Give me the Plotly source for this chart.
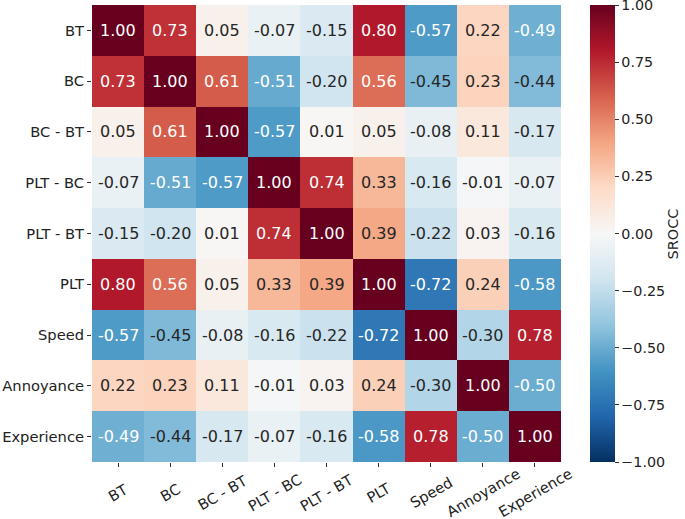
import plotly.graph_objects as go

labels = ["BT", "BC", "BC - BT", "PLT - BC", "PLT - BT", "PLT", "Speed", "Annoyance", "Experience"]
row_BT = [1.00, 0.73, 0.05, -0.07, -0.15, 0.80, -0.57, 0.22, -0.49]
row_BC = [0.73, 1.00, 0.61, -0.51, -0.20, 0.56, -0.45, 0.23, -0.44]
row_BCBT = [0.05, 0.61, 1.00, -0.57, 0.01, 0.05, -0.08, 0.11, -0.17]
row_PLTBC = [-0.07, -0.51, -0.57, 1.00, 0.74, 0.33, -0.16, -0.01, -0.07]
row_PLTBT = [-0.15, -0.20, 0.01, 0.74, 1.00, 0.39, -0.22, 0.03, -0.16]
row_PLT = [0.80, 0.56, 0.05, 0.33, 0.39, 1.00, -0.72, 0.24, -0.58]
row_Speed = [-0.57, -0.45, -0.08, -0.16, -0.22, -0.72, 1.00, -0.30, 0.78]
row_Annoy = [0.22, 0.23, 0.11, -0.01, 0.03, 0.24, -0.30, 1.00, -0.50]
row_Exp = [-0.49, -0.44, -0.17, -0.07, -0.16, -0.58, 0.78, -0.50, 1.00]
z = [row_BT, row_BC, row_BCBT, row_PLTBC, row_PLTBT, row_PLT, row_Speed, row_Annoy, row_Exp]

cb_ticks = [-1.0, -0.75, -0.5, -0.25, 0.0, 0.25, 0.5, 0.75, 1.0]
cbar_title = "SROCC"

rdbu = ["#053061", "#2166ac", "#4393c3", "#92c5de", "#d1e5f0", "#f7f7f7",
        "#fddbc7", "#f4a582", "#d6604d", "#b2182b", "#67001f"]
colorscale = [[i / 10, c] for i, c in enumerate(rdbu)]

FONT = "DejaVu Sans"
TICK_SIZE = 14.7
n = len(labels)

fig = go.Figure(go.Heatmap(
    z=z, x=labels, y=labels, zmin=-1.00001, zmax=1.00001, colorscale=colorscale,
    xgap=0, ygap=0, hoverinfo="skip",
    colorbar=dict(
        thickness=25, thicknessmode="pixels", len=1, lenmode="fraction",
        x=1.0618, xanchor="left", xpad=0, y=0.5, yanchor="middle", ypad=0,
        outlinewidth=0, ticks="outside", ticklen=4, tickcolor="#333",
        tickvals=cb_ticks, ticklabeloverflow="allow",
        ticktext=[f"{v:.2f}".replace("-", "\u2212") for v in cb_ticks],
        tickfont=dict(family=FONT, size=14.3, color="#222"),
    ),
))

annotations = []
for i, r in enumerate(labels):
    for j, c in enumerate(labels):
        v = z[i][j]
        col = "white" if abs(v) >= 0.485 else "#262626"
        annotations.append(dict(x=c, y=r, text=f"{v:.2f}", showarrow=False,
                                font=dict(family=FONT, size=16, color=col)))
# x tick labels, centred under their ticks and rotated (as in the reference)
for c in labels:
    annotations.append(dict(x=c, xref="x", y=0, yref="paper", yshift=-30,
                            text=c, textangle=-30, showarrow=False,
                            xanchor="center", yanchor="middle",
                            font=dict(family=FONT, size=TICK_SIZE, color="#222")))
# colorbar title
annotations.append(dict(x=1.2388, xref="paper", y=0.5, yref="paper", text=cbar_title,
                        textangle=-90, showarrow=False, xanchor="center", yanchor="middle",
                        font=dict(family=FONT, size=14.5, color="#222")))

fig.update_layout(
    width=685, height=519,
    margin=dict(l=92, r=124, t=5, b=57, autoexpand=False),
    plot_bgcolor="white", paper_bgcolor="white",
    annotations=annotations,
    font=dict(family=FONT, color="#222"),
)
fig.update_xaxes(range=[-0.5, n - 0.5], autorange=False,
                 showticklabels=False, ticks="outside", ticklen=4, tickcolor="#333",
                 showgrid=False, zeroline=False, showline=False)
fig.update_yaxes(range=[n - 0.5, -0.5], autorange=False, ticks="outside", ticklen=4,
                 tickcolor="#333", tickfont=dict(family=FONT, size=TICK_SIZE, color="#222"),
                 showgrid=False, zeroline=False, showline=False)

fig.write_html("out.html", config={"displayModeBar": False},
               post_script="document.body.style.margin='0';")
